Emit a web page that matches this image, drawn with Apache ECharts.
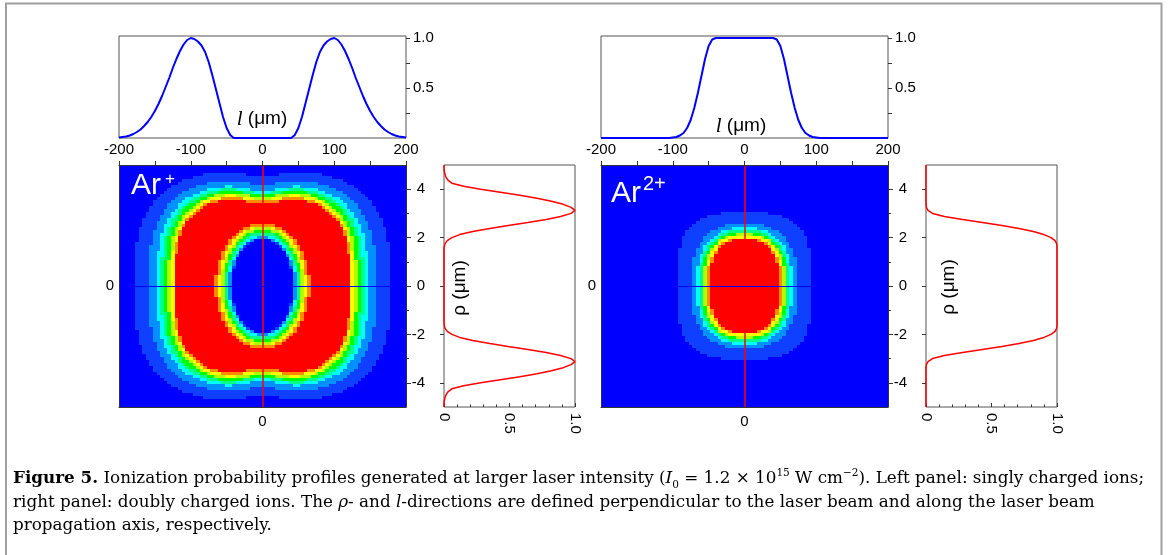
<!DOCTYPE html>
<html>
<head>
<meta charset="utf-8">
<title>Figure 5</title>
<script src="https://cdn.jsdelivr.net/npm/echarts@6.0.0/dist/echarts.min.js"></script>
<style>
html, body { margin: 0; padding: 0; background: #fff; }
#Chart { width: 1168px; height: 555px; }
</style>
</head>
<body>
<div id="Chart"></div>
<script>
var lStep = 5;        // um between map columns / top curve samples
var rhoStep = 0.125;  // um between map rows / side curve samples

var lineL = [];
for (var i = 0; i <= 80; i++) { lineL.push(-200 + i * lStep); }
var sideRho = [];
for (var j = 0; j <= 80; j++) { sideRho.push(-5 + j * rhoStep); }

// Ar+ profile along l (top left), l = -200 .. 200
var arPlusL = [
    0.005, 0.01, 0.015, 0.025, 0.04, 0.06, 0.085, 0.12, 0.16, 0.21,
    0.27, 0.34, 0.42, 0.51, 0.60, 0.70, 0.79, 0.87, 0.935, 0.98,
    1.0, 0.99, 0.965, 0.925, 0.86, 0.76, 0.63, 0.49, 0.35, 0.21,
    0.10, 0.03, 0,
    0, 0, 0, 0, 0, 0, 0, 0, 0, 0, 0, 0, 0, 0, 0,
    0, 0.03, 0.10,
    0.21, 0.35, 0.49, 0.63, 0.76, 0.86, 0.925, 0.965, 0.99, 1.0,
    0.98, 0.935, 0.87, 0.79, 0.70, 0.60, 0.51, 0.42, 0.34, 0.27,
    0.21, 0.16, 0.12, 0.085, 0.06, 0.04, 0.025, 0.015, 0.01, 0.005
];

// Ar2+ profile along l (top right)
var ar2PlusL = [
    0, 0, 0, 0, 0, 0, 0, 0, 0, 0,
    0, 0, 0, 0, 0, 0, 0, 0, 0, 0,
    0.005, 0.01, 0.025, 0.05, 0.10, 0.18, 0.30, 0.45, 0.62, 0.79,
    0.92, 0.985, 1,
    1, 1, 1, 1, 1, 1, 1, 1, 1, 1, 1, 1, 1, 1, 1,
    1, 0.985, 0.92,
    0.79, 0.62, 0.45, 0.30, 0.18, 0.10, 0.05, 0.025, 0.01, 0.005,
    0, 0, 0, 0, 0, 0, 0, 0, 0, 0,
    0, 0, 0, 0, 0, 0, 0, 0, 0, 0
];

// Ar+ profile along rho (left side plot), rho = -5 .. 5
var arPlusRho = [
    0, 0, 0.002, 0.007, 0.015, 0.03, 0.06, 0.15, 0.28, 0.43,
    0.58, 0.71, 0.82, 0.91, 0.97, 1.0, 0.97, 0.89, 0.78, 0.64,
    0.49, 0.35, 0.22, 0.12, 0.06, 0.025, 0.008, 0.002,
    0, 0, 0, 0, 0, 0, 0, 0, 0, 0, 0, 0, 0, 0, 0, 0, 0, 0, 0, 0, 0, 0, 0, 0, 0,
    0.002, 0.008, 0.025, 0.06, 0.12, 0.22, 0.35, 0.49,
    0.64, 0.78, 0.89, 0.97, 1.0, 0.97, 0.91, 0.82, 0.71, 0.58,
    0.43, 0.28, 0.15, 0.06, 0.03, 0.015, 0.007, 0.002, 0, 0
];

// Ar2+ profile along rho (right side plot)
var ar2PlusRho = [
    0, 0, 0, 0, 0, 0, 0, 0, 0, 0, 0, 0, 0, 0,
    0.003, 0.015, 0.05, 0.14, 0.28, 0.43, 0.58, 0.71, 0.82, 0.90, 0.955, 0.985, 0.997,
    1, 1, 1, 1, 1, 1, 1, 1, 1, 1, 1, 1, 1, 1, 1, 1, 1, 1, 1, 1, 1, 1, 1, 1, 1, 1, 1,
    0.997, 0.985, 0.955, 0.90, 0.82, 0.71, 0.58, 0.43, 0.28, 0.14, 0.05, 0.015, 0.003,
    0, 0, 0, 0, 0, 0, 0, 0, 0, 0, 0, 0, 0, 0
];

// maps, one quadrant (l >= 0, rho >= 0), mirrored on both axes.
// one column per l = 0, 5 .. 200; level:count runs over rho = 0, 0.125 .. 5; level/9 = probability
var mapArPlus = [
    '0:16 2 3 5 6 8 9:7 8 6 4 3 2:2 1:3 0:4',
    '0:16 2 4 5 6 8 9:7 8 6 5 3 2:2 1:3 0:4',
    '0:16 3 4 5 6 8 9:7 8 6 5 3 2:2 1:3 0:4',
    '0:15 2 3 4 6 7 8 9:7 8 7 5 4 2:2 1:3 0:4',
    '0:14 1 3 4 5 6 8 9:8 8 7 6 4 3 2:2 1:2 0:4',
    '0:13 1 3 4 5 6 7 8 9:9 7 6 4 3 2:2 1:3 0:3',
    '0:12 2 3 4 5 6 7 8 9:10 8 6 5 3 2:2 1:3 0:3',
    '0:10 2 3 4:2 5 6 7 8 9:11 8 6 5 3 2:2 1:3 0:3',
    '0:6 1 2:2 3 4:2 5 6 7:2 8 9:12 8 7 5 4 2:2 1:3 0:3',
    '2:5 3:2 4:2 5:2 6:2 7 8:2 9:13 8 7 5 4 3 2 1:3 0:3',
    '4:5 5:3 6:2 7:2 8:2 9:15 8 7 5 4 3 2 1:3 0:3',
    '6:6 7:3 8:3 9:17 8 6 5 4 2:2 1:3 0:3',
    '7:4 8:5 9:20 7 6 5 3 2:2 1:3 0:3',
    '8:4 9:24 8 7 6 4 3 2:2 1:3 0:3',
    '9:28 8 7 5 4 3 2:2 1:3 0:3',
    '9:28 7 6 5 4 3 2:2 1:3 0:3',
    '9:27 8 7 5 4 3 2:2 1:4 0:3',
    '9:26 8 7 6 5 4 3 2:2 1:3 0:4',
    '9:25 8 7 6 5 4 3 2:3 1:3 0:4',
    '9:24 8 7 6 5 4:2 3 2:2 1:4 0:4',
    '9:23 8 7 6 5:2 4 3 2:3 1:3 0:5',
    '9:22 8 7 6 5:2 4 3:2 2:2 1:4 0:5',
    '9:20 8 7 6:2 5:2 4 3:2 2:3 1:4 0:5',
    '9:17 8:2 7 6:2 5:2 4:2 3:2 2:3 1:4 0:6',
    '9:11 8:4 7:2 6:3 5:2 4:2 3:2 2:4 1:4 0:7',
    '7:12 6:5 5:3 4:3 3:2 2:4 1:5 0:7',
    '6:9 5:8 4:3 3:3 2:5 1:5 0:8',
    '5:9 4:8 3:4 2:5 1:6 0:9',
    '4:10 3:8 2:6 1:7 0:10',
    '3:12 2:10 1:8 0:11',
    '2:19 1:10 0:12',
    '2:14 1:13 0:14',
    '1:25 0:16',
    '1:23 0:18',
    '1:20 0:21',
    '1:15 0:26',
    '0:41', '0:41', '0:41', '0:41', '0:41'
];
var mapAr2Plus = [
    '9:16 7 6 4 3 2 1:4 0:16',
    '9:16 7 6 4 3 2 1:4 0:16',
    '9:16 7 6 4 3 2 1:4 0:16',
    '9:16 7 5 4 3 2 1:4 0:16',
    '9:15 8 7 5 4 2:2 1:4 0:16',
    '9:15 7 6 4 3 2:2 1:4 0:16',
    '9:14 8 7 5 4 3 2 1:5 0:16',
    '9:13 8 7 6 4 3 2:2 1:4 0:17',
    '9:11 8 7:2 5 4 3 2:2 1:5 0:17',
    '9:8 8:2 7:2 6 5 4 3 2:3 1:5 0:17',
    '8:7 7:2 6:2 5 4:2 3 2:3 1:6 0:17',
    '6:7 5:3 4:2 3:2 2:3 1:6 0:18',
    '4:8 3:3 2:4 1:8 0:18',
    '3:7 2:6 1:9 0:19',
    '2:10 1:11 0:20',
    '1:20 0:21',
    '1:19 0:22',
    '1:17 0:24',
    '1:13 0:28',
    '0:41', '0:41', '0:41', '0:41', '0:41', '0:41', '0:41', '0:41', '0:41', '0:41', '0:41',
    '0:41', '0:41', '0:41', '0:41', '0:41', '0:41', '0:41', '0:41', '0:41', '0:41', '0:41'
];

var levelColors = ['#0000ff', '#1040ff', '#0090ff', '#00ffff', '#00ff88',
                   '#00ff00', '#b0ff00', '#ffff00', '#ff8c00', '#ff0000'];

var rhoLabels = [-4, -2, 0, 2, 4];
var rhoMinor = [-3, -1, 1, 3];
var probTicks = [0.25, 0.5, 0.75, 1];
var probLabels = [0.5, 1];

var serif = "'Liberation Serif', 'Times New Roman', serif";
var capSerif = "'DejaVu Serif', serif";
var capSize = 16.8;
var sans = "'Liberation Sans', Arial, sans-serif";
var axisColor = '#333';
var frameColor = '#555';

function decodeRun(code) {
    var out = [];
    code.split(' ').forEach(function (tok) {
        var p = tok.split(':');
        var n = p.length > 1 ? +p[1] : 1;
        for (var k = 0; k < n; k++) { out.push(+p[0] / 9); }
    });
    return out;
}

function mapCells(columns) {
    var cells = [];
    columns.forEach(function (code, c) {
        var col = decodeRun(code);
        for (var r = 0; r < col.length; r++) {
            var l = c * lStep, p = r * rhoStep, v = col[r];
            cells.push([l, p, v]);
            if (c > 0) cells.push([-l, p, v]);
            if (r > 0) cells.push([l, -p, v]);
            if (c > 0 && r > 0) cells.push([-l, -p, v]);
        }
    });
    return cells;
}

function pairs(xs, ys) {
    return xs.map(function (x, k) { return [x, ys[k]]; });
}

function renderCell(params, api) {
    var a = api.coord([api.value(0) - lStep / 2, api.value(1) + rhoStep / 2]);
    var b = api.coord([api.value(0) + lStep / 2, api.value(1) - rhoStep / 2]);
    var x0 = Math.round(a[0]), x1 = Math.round(b[0]);
    var y0 = Math.round(a[1]), y1 = Math.round(b[1]);
    return {
        type: 'rect',
        shape: { x: x0, y: y0, width: x1 - x0, height: y1 - y0 },
        style: { fill: api.visual('color') }
    };
}

function labelStyle(extra) {
    return Object.assign({ color: '#000', fontFamily: sans, fontSize: 15 }, extra);
}
var lineStyle = { color: axisColor, width: 1 };

function hiddenX(g) {
    return { gridIndex: g, type: 'value', min: -200, max: 200, show: false,
             axisLine: { onZero: false }, splitLine: { show: false } };
}
function mapTopAxis(g) {
    return {
        gridIndex: g, type: 'value', position: 'top', min: -200, max: 200, interval: 100, z: 10,
        axisLine: { show: true, onZero: false, lineStyle: lineStyle },
        axisTick: { show: true, length: 4, lineStyle: lineStyle },
        minorTick: { show: true, splitNumber: 2, length: 4, lineStyle: lineStyle },
        axisLabel: labelStyle({ margin: 8 }),
        splitLine: { show: false }
    };
}
function mapBottomAxis(g) {
    return {
        gridIndex: g, type: 'value', position: 'bottom', min: -200, max: 200, z: 10,
        axisLine: { show: true, onZero: false, lineStyle: lineStyle },
        axisTick: { show: false },
        axisLabel: labelStyle({ customValues: [0], margin: 7 }),
        splitLine: { show: false }
    };
}
function sideBottomAxis(g) {
    return {
        gridIndex: g, type: 'value', position: 'bottom', min: 0, max: 1, interval: 0.5,
        axisLine: { show: false, onZero: false },
        axisTick: { show: true, inside: true, length: 4, lineStyle: lineStyle },
        minorTick: { show: true, splitNumber: 5, length: 2.5, lineStyle: lineStyle },
        axisLabel: labelStyle({
            rotate: -90, margin: 6,
            formatter: function (v) { return v === 0 ? '0' : v.toFixed(1); }
        }),
        splitLine: { show: false }
    };
}
function probAxis(g) {
    return {
        gridIndex: g, type: 'value', position: 'right', min: 0, max: 1.02,
        axisLine: { show: false, onZero: false },
        axisTick: { show: true, length: 4, customValues: probTicks, lineStyle: lineStyle },
        axisLabel: labelStyle({
            customValues: probLabels, margin: 7,
            formatter: function (v) { return v.toFixed(1); }
        }),
        splitLine: { show: false }
    };
}
function mapRightAxis(g) {
    return {
        gridIndex: g, type: 'value', position: 'right', min: -5, max: 5, z: 10,
        axisLine: { show: true, onZero: false, lineStyle: lineStyle },
        axisTick: { show: true, length: 5, customValues: rhoLabels, lineStyle: lineStyle },
        axisLabel: labelStyle({ customValues: rhoLabels, align: 'right', margin: 19 }),
        splitLine: { show: false }
    };
}
function mapMinorAxis(g) {
    return {
        gridIndex: g, type: 'value', position: 'right', min: -5, max: 5, z: 10,
        axisLine: { show: false, onZero: false },
        axisTick: { show: true, length: 3, customValues: rhoMinor, lineStyle: lineStyle },
        axisLabel: { show: false },
        splitLine: { show: false }
    };
}
function mapLeftAxis(g) {
    return {
        gridIndex: g, type: 'value', position: 'left', min: -5, max: 5, z: 10,
        axisLine: { show: true, onZero: false, lineStyle: lineStyle },
        axisTick: { show: false },
        axisLabel: labelStyle({ customValues: [0], margin: 5 }),
        splitLine: { show: false }
    };
}
function sideLeftAxis(g) {
    return {
        gridIndex: g, type: 'value', position: 'left', min: -5, max: 5,
        axisLine: { show: false, onZero: false },
        axisTick: { show: true, length: 4, customValues: rhoLabels, lineStyle: lineStyle },
        axisLabel: { show: false },
        splitLine: { show: false }
    };
}

function frame(left, top, width, height) {
    return { left: left, top: top, width: width, height: height, outerBoundsMode: 'none',
             show: true, borderColor: frameColor, borderWidth: 1, backgroundColor: 'transparent' };
}
function plain(left, top, width, height) {
    return { left: left, top: top, width: width, height: height, outerBoundsMode: 'none' };
}

function mapSeries(xi, yi, columns) {
    return {
        type: 'custom', xAxisIndex: xi, yAxisIndex: yi, data: mapCells(columns),
        renderItem: renderCell, clip: true, silent: true, progressive: 0,
        markLine: {
            silent: true, symbol: ['none', 'none'], label: { show: false },
            emphasis: { disabled: true },
            data: [
                { xAxis: 0, lineStyle: { color: '#ff0000', width: 1.5, type: 'solid' } },
                { yAxis: 0, lineStyle: { color: '#0000ff', width: 1.2, type: 'solid' } }
            ]
        }
    };
}
function curve(xi, yi, data, color, width) {
    return { type: 'line', xAxisIndex: xi, yAxisIndex: yi, data: data, showSymbol: false,
             silent: true, lineStyle: { color: color, width: width } };
}

var capRich = {
    b: { fontWeight: 'bold', fontFamily: capSerif, fontSize: capSize, lineHeight: 23, fill: '#000' },
    i: { fontStyle: 'italic', fontFamily: capSerif, fontSize: capSize, lineHeight: 23, fill: '#000' },
    sup: { fontFamily: capSerif, fontSize: 10.5, lineHeight: 12, verticalAlign: 'top', fill: '#000' },
    sub: { fontFamily: capSerif, fontSize: 10.5, lineHeight: 12, verticalAlign: 'bottom', fill: '#000' }
};
function caption(text, y) {
    return { type: 'text', x: 13, y: y, silent: true, z: 100,
             style: { text: text, fontFamily: capSerif, fontSize: capSize, lineHeight: 23, fill: '#000',
                      verticalAlign: 'middle', rich: capRich } };
}
var axisNameRich = { i: { fontStyle: 'italic', fontFamily: serif, fontSize: 21, fill: '#000' } };
function lName(x, y) {
    return { type: 'text', x: x, y: y, silent: true, z: 100,
             style: { text: '{i|l} (μm)', fontFamily: sans, fontSize: 19, fill: '#000',
                      align: 'center', verticalAlign: 'middle', rich: axisNameRich } };
}
function rhoName(x, y) {
    return { type: 'text', x: x, y: y, rotation: Math.PI / 2, silent: true, z: 100,
             style: { text: 'ρ (μm)', fontFamily: sans, fontSize: 19, fill: '#000',
                      align: 'center', verticalAlign: 'middle' } };
}
function whiteText(text, x, y, size) {
    return { type: 'text', x: x, y: y, silent: true, z: 100,
             style: { text: text, fontFamily: sans, fontSize: size, fill: '#fff',
                      align: 'left', verticalAlign: 'middle' } };
}

var Chart = echarts.init(document.getElementById('Chart'));

var ChartOption = {
    animation: false,
    backgroundColor: '#fff',
    grid: [
        frame(119, 36, 287, 102),
        plain(119, 165, 287, 242),
        frame(444, 165, 131, 242),
        frame(601, 36, 287, 102),
        plain(601, 165, 287, 242),
        frame(926, 165, 131, 242)
    ],
    xAxis: [
        hiddenX(0), mapTopAxis(1), mapBottomAxis(1), sideBottomAxis(2),
        hiddenX(3), mapTopAxis(4), mapBottomAxis(4), sideBottomAxis(5)
    ],
    yAxis: [
        probAxis(0), mapRightAxis(1), mapMinorAxis(1), mapLeftAxis(1), sideLeftAxis(2),
        probAxis(3), mapRightAxis(4), mapMinorAxis(4), mapLeftAxis(4), sideLeftAxis(5)
    ],
    visualMap: {
        type: 'continuous', show: false, seriesIndex: [1, 4], dimension: 2,
        min: 0, max: 1, inRange: { color: levelColors }
    },
    series: [
        curve(0, 0, pairs(lineL, arPlusL), '#0000ff', 2),
        mapSeries(1, 1, mapArPlus),
        curve(3, 4, pairs(arPlusRho, sideRho), '#ff0000', 1.5),
        curve(4, 5, pairs(lineL, ar2PlusL), '#0000ff', 2),
        mapSeries(5, 6, mapAr2Plus),
        curve(7, 9, pairs(ar2PlusRho, sideRho), '#ff0000', 1.5)
    ],
    graphic: [
        { type: 'rect', silent: true, z: 0,
          shape: { x: 6, y: 3.5, width: 1155.5, height: 600 },
          style: { fill: 'none', stroke: '#a0a0a0', lineWidth: 2 } },
        lName(262, 119),
        lName(741, 126),
        rhoName(460, 288),
        rhoName(949, 287),
        whiteText('Ar', 131, 186, 30),
        whiteText('+', 165, 179, 17),
        whiteText('Ar', 611, 194, 30),
        whiteText('2+', 643, 184.5, 20),
        caption('{b|Figure 5.} Ionization probability profiles generated at larger laser intensity ({i|I}{sub|0} = 1.2 × 10{sup|15} W cm{sup|−2}). Left panel: singly charged ions;', 479),
        caption('right panel: doubly charged ions. The {i|ρ}- and {i|l}-directions are defined perpendicular to the laser beam and along the laser beam', 503),
        caption('propagation axis, respectively.', 526)
    ]
};

Chart.setOption(ChartOption);

window.addEventListener('resize', function () {
    Chart.resize();
});
</script>
</body>
</html>
